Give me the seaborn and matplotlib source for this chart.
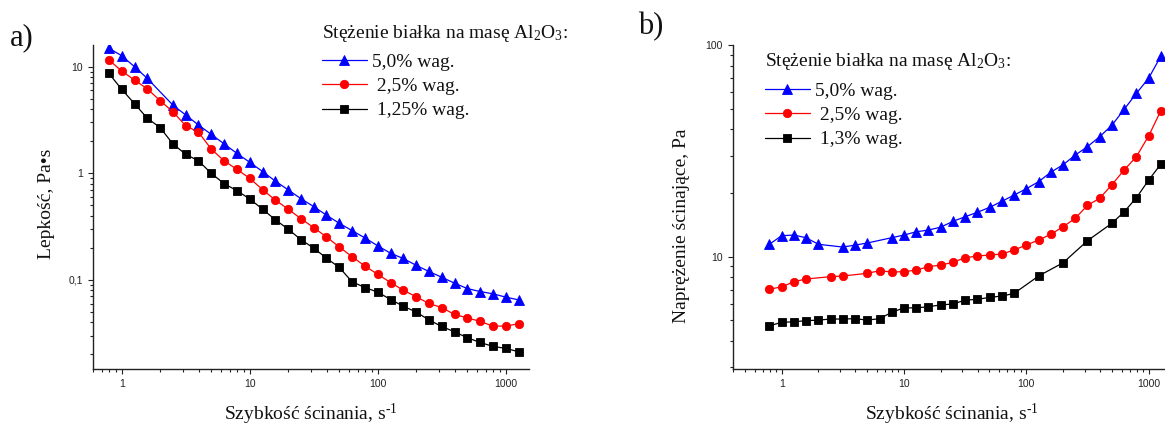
import matplotlib
matplotlib.use("Agg")
import matplotlib.pyplot as plt
from matplotlib.ticker import FixedLocator, FixedFormatter, LogLocator, NullFormatter
import pandas as pd
import seaborn as sns

# ---- a) viscosity vs shear rate -------------------------------------------
visc_x_50 = [0.794, 1.0, 1.26, 1.58, 2.51, 3.16, 3.98, 5.01, 6.31, 7.94, 10.0,
             12.6, 15.8, 20.0, 25.1, 31.6, 39.8, 50.1, 63.1, 79.4, 100.0, 126.0,
             158.0, 200.0, 251.0, 316.0, 398.0, 501.0, 631.0, 794.0, 1000.0, 1259.0]
visc_y_50 = [14.9, 12.7, 10.0, 7.8, 4.37, 3.53, 2.84, 2.32, 1.89, 1.54, 1.27,
             1.04, 0.849, 0.699, 0.579, 0.488, 0.405, 0.340, 0.290, 0.248, 0.209, 0.178,
             0.159, 0.137, 0.120, 0.106, 0.0933, 0.0830, 0.0778, 0.0741, 0.0690, 0.0650]

visc_x_25 = [0.794, 1.0, 1.26, 1.58, 2.0, 2.51, 3.16, 3.98, 5.01, 6.31, 7.94, 10.0,
             12.6, 15.8, 20.0, 25.1, 31.6, 39.8, 50.1, 63.1, 79.4, 100.0, 126.0,
             158.0, 200.0, 251.0, 316.0, 398.0, 501.0, 631.0, 794.0, 1000.0, 1259.0]
visc_y_25 = [11.6, 9.12, 7.50, 6.22, 4.80, 3.78, 2.80, 2.43, 1.69, 1.31, 1.09, 0.899,
             0.703, 0.563, 0.461, 0.376, 0.310, 0.253, 0.204, 0.165, 0.135, 0.113, 0.0945,
             0.0802, 0.0695, 0.0601, 0.0551, 0.0474, 0.0441, 0.0408, 0.0369, 0.0369, 0.0388]

visc_x_125 = [0.794, 1.0, 1.26, 1.58, 2.0, 2.51, 3.16, 3.98, 5.01, 6.31, 7.94, 10.0,
              12.6, 15.8, 20.0, 25.1, 31.6, 39.8, 50.1, 63.1, 79.4, 100.0, 126.0,
              158.0, 200.0, 251.0, 316.0, 398.0, 501.0, 631.0, 794.0, 1000.0, 1259.0]
visc_y_125 = [8.67, 6.14, 4.50, 3.30, 2.68, 1.89, 1.51, 1.31, 1.00, 0.800, 0.689, 0.575,
              0.461, 0.368, 0.299, 0.239, 0.199, 0.160, 0.131, 0.0960, 0.0849, 0.0769, 0.0655,
              0.0568, 0.0499, 0.0422, 0.0366, 0.0326, 0.0287, 0.0259, 0.0238, 0.0228, 0.0212]

# ---- b) shear stress vs shear rate ----------------------------------------
stress_x_50 = [0.794, 1.0, 1.26, 1.58, 2.0, 3.16, 3.98, 5.01, 7.94, 10.0, 12.6,
               15.8, 20.0, 25.1, 31.6, 39.8, 50.1, 63.1, 79.4, 100.0, 126.0, 158.0,
               200.0, 251.0, 316.0, 398.0, 501.0, 631.0, 794.0, 1000.0, 1259.0]
stress_y_50 = [11.45, 12.57, 12.66, 12.30, 11.45, 11.11, 11.35, 11.61, 12.30, 12.66, 13.12,
               13.36, 13.80, 14.69, 15.45, 16.21, 17.11, 18.27, 19.55, 20.95, 22.61, 25.04,
               27.2, 30.2, 33.1, 36.9, 41.8, 49.7, 59.1, 69.7, 88.7]

stress_x_25 = [0.794, 1.0, 1.26, 1.58, 2.51, 3.16, 5.01, 6.31, 7.94, 10.0, 12.6,
               15.8, 20.0, 25.1, 31.6, 39.8, 50.1, 63.1, 79.4, 100.0, 126.0, 158.0,
               200.0, 251.0, 316.0, 398.0, 501.0, 631.0, 794.0, 1000.0, 1259.0]
stress_y_25 = [7.02, 7.21, 7.62, 7.85, 8.05, 8.11, 8.35, 8.59, 8.47, 8.50, 8.65,
               8.97, 9.14, 9.41, 9.89, 10.08, 10.19, 10.30, 10.76, 11.36, 11.99, 12.75,
               13.86, 15.18, 17.49, 18.88, 21.9, 25.7, 29.7, 37.2, 49.0]

stress_x_13 = [0.794, 1.0, 1.26, 1.58, 2.0, 2.51, 3.16, 3.98, 5.01, 6.31, 7.94,
               10.0, 12.6, 15.8, 20.0, 25.1, 31.6, 39.8, 50.1, 63.1, 79.4,
               126.0, 200.0, 316.0, 501.0, 631.0, 794.0, 1000.0, 1259.0]
stress_y_13 = [4.72, 4.90, 4.93, 4.99, 5.02, 5.08, 5.08, 5.10, 5.02, 5.10, 5.46,
               5.74, 5.73, 5.81, 5.92, 5.98, 6.24, 6.29, 6.43, 6.52, 6.71,
               8.11, 9.37, 11.9, 14.4, 16.3, 19.0, 23.0, 27.4]

labels_a = ["5,0% wag.", " 2,5% wag.", " 1,25% wag."]
labels_b = ["5,0% wag.", " 2,5% wag.", " 1,3% wag."]
legend_title = "Stężenie białka na masę Al$_{\\mathrm{2}}$O$_{\\mathrm{3}}$:"
x_label = "Szybkość ścinania, s$^{\\text{-1}}$"
y_label_a = "Lepkość, Pa•s"
y_label_b = "Naprężenie ścinające, Pa"

x_ticks = [1, 10, 100, 1000]
x_tick_labels = ["1", "10", "100", "1000"]
y_ticks_a = [0.1, 1, 10]
y_tick_labels_a = ["0,1", "1", "10"]
y_ticks_b = [10, 100]
y_tick_labels_b = ["10", "100"]

colors = ["#0000ff", "#ff0000", "#000000"]
markers = ["^", "o", "s"]
marker_sizes = [7.0, 6.0, 5.4]

sns.set_theme(style="ticks")
plt.rcParams["font.family"] = ["Liberation Serif", "DejaVu Serif"]
plt.rcParams["mathtext.fontset"] = "custom"
plt.rcParams["mathtext.rm"] = "Liberation Serif"
plt.rcParams["mathtext.it"] = "Liberation Serif:italic"
plt.rcParams["mathtext.bf"] = "Liberation Serif:bold"

W, H = 1165, 425
fig = plt.figure(figsize=(W / 100, H / 100), dpi=100)
ax_a = fig.add_axes([93.3 / W, 56 / H, 435.7 / W, 324 / H])
ax_b = fig.add_axes([732.7 / W, 56 / H, 438.2 / W, 324 / H])

TEXT_PT = 14
spine_col = "#222222"


def draw_series(ax, xs, ys, labels):
    handles = []
    for x, y, lab, c, m, ms in zip(xs, ys, labels, colors, markers, marker_sizes):
        df = pd.DataFrame({"rate": x, "value": y})
        sns.lineplot(data=df, x="rate", y="value", ax=ax, color=c, marker=m,
                     markersize=ms, markeredgecolor=c, markeredgewidth=0.6,
                     linewidth=0.9, errorbar=None, legend=False, clip_on=True)
        line = ax.lines[-1]
        line.set_label(lab)
        handles.append(line)
    return handles


def style_axes(ax, yticks, yticklabels):
    ax.set_xscale("log")
    ax.set_yscale("log")
    for side in ("top", "right"):
        ax.spines[side].set_visible(False)
    for side in ("left", "bottom"):
        ax.spines[side].set_color(spine_col)
        ax.spines[side].set_linewidth(1.0)
    ax.xaxis.set_major_locator(FixedLocator(x_ticks))
    ax.xaxis.set_major_formatter(FixedFormatter(x_tick_labels))
    ax.xaxis.set_minor_locator(LogLocator(base=10, subs=range(2, 10), numticks=20))
    ax.xaxis.set_minor_formatter(NullFormatter())
    ax.yaxis.set_major_locator(FixedLocator(yticks))
    ax.yaxis.set_major_formatter(FixedFormatter(yticklabels))
    ax.yaxis.set_minor_locator(LogLocator(base=10, subs=range(2, 10), numticks=20))
    ax.yaxis.set_minor_formatter(NullFormatter())
    ax.tick_params(which="major", direction="out", length=3.8, width=0.8,
                   color=spine_col, labelsize=7.5, labelcolor="#222222",
                   labelfontfamily="Liberation Sans", pad=3.5)
    ax.tick_params(which="minor", direction="out", length=2.0, width=0.8,
                   color=spine_col)
    ax.set_facecolor("white")


# panel a
h_a = draw_series(ax_a, [visc_x_50, visc_x_25, visc_x_125],
                  [visc_y_50, visc_y_25, visc_y_125], labels_a)
style_axes(ax_a, y_ticks_a, y_tick_labels_a)
ax_a.set_xlim(0.6, 1520)
ax_a.set_ylim(0.0146, 16)

# panel b
h_b = draw_series(ax_b, [stress_x_50, stress_x_25, stress_x_13],
                  [stress_y_50, stress_y_25, stress_y_13], labels_b)
style_axes(ax_b, y_ticks_b, y_tick_labels_b)
ax_b.set_xlim(0.398, 1520)
ax_b.set_ylim(2.95, 100)

for ax, ylab, ly, lx in ((ax_a, y_label_a, 0.511, -0.107), (ax_b, y_label_b, 0.441, -0.116)):
    ax.set_xlabel(x_label, fontsize=TEXT_PT, color="#111111", va="baseline")
    ax.xaxis.set_label_coords(0.5, -51 / 324)
    ax.set_ylabel(ylab, fontsize=TEXT_PT, color="#111111", va="center")
    ax.yaxis.set_label_coords(lx, ly)


def px(x, y):
    return x / W, 1 - y / H


# legends with a separate heading line
for ax, handles, labels, tx, ty, ly in ((ax_a, h_a, labels_a, 322, 37.5, 53),
                                         (ax_b, h_b, labels_b, 765, 66, 82)):
    fig.text(*px(tx, ty), legend_title, fontsize=TEXT_PT, color="#111111",
             ha="left", va="baseline")
    ax.legend(handles, labels, loc="upper left", bbox_to_anchor=px(tx, ly),
              bbox_transform=fig.transFigure, frameon=False, fontsize=TEXT_PT,
              borderpad=0, borderaxespad=0, handlelength=2.3, handletextpad=0.25,
              labelspacing=0.35, numpoints=1, labelcolor="#111111")

fig.text(*px(10, 38), "a)", fontsize=22, ha="left", va="center", color="#111111")
fig.text(*px(638, 27), "b)", fontsize=22, ha="left", va="center", color="#111111")

fig.savefig("out.png", dpi=100, facecolor="white")
